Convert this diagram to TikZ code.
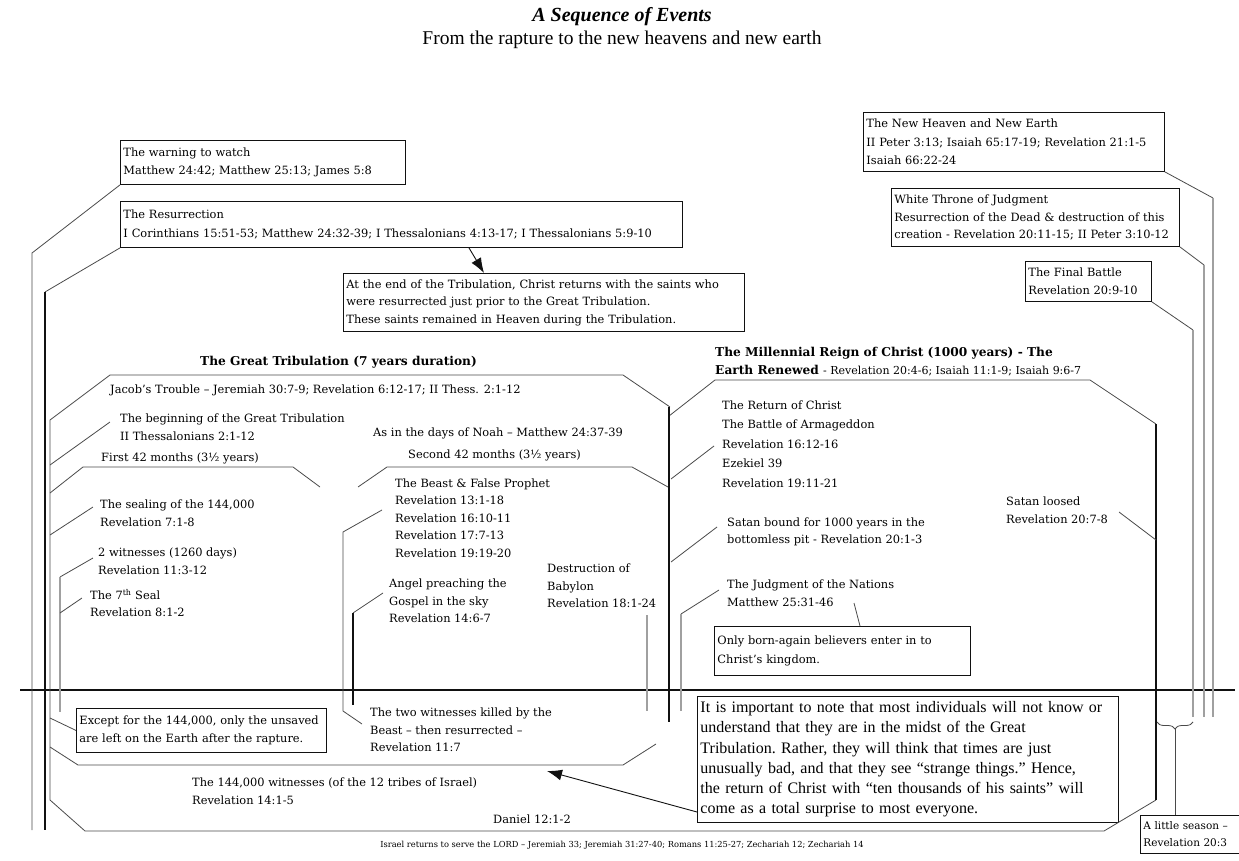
\documentclass[tikz,border=0pt]{standalone}
\usepackage{fontspec}
\setmainfont{DejaVu Serif}
\newfontfamily\timesfont{Liberation Serif}
\usetikzlibrary{arrows.meta, positioning, calc, decorations.pathreplacing}
\definecolor{lnblack}{HTML}{111111}
\definecolor{lndark}{HTML}{4A4A4A}
\definecolor{lngray}{HTML}{A0A0A0}

\begin{document}
\begin{tikzpicture}[x=1pt, y=-1pt,
  every node/.style={inner sep=0pt, font=\fontsize{11.4}{17.5}\selectfont},
  txt/.style={anchor=west, align=left},
  hdr/.style={anchor=west, align=left, font=\fontsize{12.2}{18}\selectfont\bfseries},
  evbox/.style n args={2}{draw=lnblack, line width=0.9pt, anchor=north west, align=left, inner xsep=3pt,
    minimum width=#1, text width=#1-6pt, minimum height=#2, font=\fontsize{11.4}{18.5}\selectfont},
  lnthin/.style={draw=lndark, line width=0.8pt},
  lnfaint/.style={draw=lngray, line width=1.3pt},
  lnheavy/.style={draw=lnblack, line width=2.5pt},
  pointer/.style={draw=lnblack, line width=0.9pt, -{Latex[length=15pt, width=11pt]}},
]
\path[use as bounding box, fill=white] (0,0) rectangle (1239,861);

% Title
\node[font=\timesfont\fontsize{20}{24}\selectfont\bfseries\itshape] (title) at (622,17) {A Sequence of Events};
\node[font=\timesfont\fontsize{19.5}{24}\selectfont] (subtitle) at (622,40) {From the rapture to the new heavens and new earth};

% Boxes
\node[evbox={285pt}{44pt}] (warn) at (120,140) {The warning to watch\\Matthew 24:42; Matthew 25:13; James 5:8};
\node[evbox={562pt}{46pt}] (res) at (120,201) {The Resurrection\\I Corinthians 15:51-53; Matthew 24:32-39; I Thessalonians 4:13-17; I Thessalonians 5:9-10};
\node[evbox={401pt}{58pt}, font=\fontsize{11.4}{17.5}\selectfont] (endtrib) at (343,273) {At the end of the Tribulation, Christ returns with the saints who\\were resurrected just prior to the Great Tribulation.\\These saints remained in Heaven during the Tribulation.};
\node[evbox={301pt}{59pt}] (nhne) at (863,112) {The New Heaven and New Earth\\II Peter 3:13; Isaiah 65:17-19; Revelation 21:1-5\\Isaiah 66:22-24};
\node[evbox={288pt}{58pt}, font=\fontsize{11.4}{17.5}\selectfont] (wtj) at (891,188) {White Throne of Judgment\\Resurrection of the Dead \& destruction of this\\creation - Revelation 20:11-15; II Peter 3:10-12};
\node[evbox={126pt}{40pt}] (fb) at (1025,261) {The Final Battle\\Revelation 20:9-10};
\node[evbox={256pt}{49pt}] (born) at (714,626) {Only born-again believers enter in to\\Christ’s kingdom.};
\node[evbox={250pt}{44pt}] (except) at (76,708) {Except for the 144,000, only the unsaved\\are left on the Earth after the rapture.};
\node[evbox={421pt}{126pt}, font=\timesfont\fontsize{16}{20.2}\selectfont\frenchspacing] (note) at (697,696) {It is important to note that most individuals will not know or\\understand that they are in the midst of the Great\\Tribulation. Rather, they will think that times are just\\unusually bad, and that they see “strange things.” Hence,\\the return of Christ with “ten thousands of his saints” will\\come as a total surprise to most everyone.};
\node[evbox={99pt}{38pt}, font=\fontsize{10.5}{17}\selectfont, inner xsep=2pt] (season) at (1140,815) {A little season –\\Revelation 20:3};

% Great Tribulation labels
\node[hdr] (gthead) at (200,362) {The Great Tribulation (7 years duration)};
\node[txt] (jacob) at (110,390) {Jacob’s Trouble – Jeremiah 30:7-9; Revelation 6:12-17; II Thess. 2:1-12};
\node[txt] (gtbegin) at (120,427) {The beginning of the Great Tribulation\\II Thessalonians 2:1-12};
\node[txt] (first42) at (101,458) {First 42 months (3½ years)};
\node[txt] (sealing) at (100,513) {The sealing of the 144,000\\Revelation 7:1-8};
\node[txt] (twowit) at (98,561) {2 witnesses (1260 days)\\Revelation 11:3-12};
\node[txt] (seal7) at (90,603) {The 7\textsuperscript{th} Seal\\Revelation 8:1-2};
\node[txt] (noah) at (373,433) {As in the days of Noah – Matthew 24:37-39};
\node[txt] (second42) at (408,455) {Second 42 months (3½ years)};
\node[txt] (beast) at (395,518) {The Beast \& False Prophet\\Revelation 13:1-18\\Revelation 16:10-11\\Revelation 17:7-13\\Revelation 19:19-20};
\node[txt] (angel) at (389,601) {Angel preaching the\\Gospel in the sky\\Revelation 14:6-7};
\node[txt] (babylon) at (547,586) {Destruction of\\Babylon\\Revelation 18:1-24};
\node[txt] (killed) at (370,730) {The two witnesses killed by the\\Beast – then resurrected –\\Revelation 11:7};
\node[txt] (witness) at (192,791) {The 144,000 witnesses (of the 12 tribes of Israel)\\Revelation 14:1-5};
\node[txt] (daniel) at (493,819) {Daniel 12:1-2};
\node[font=\fontsize{8.3}{10}\selectfont] (israel) at (622,845) {Israel returns to serve the LORD – Jeremiah 33; Jeremiah 31:27-40; Romans 11:25-27; Zechariah 12; Zechariah 14};

% Millennium labels
\node[hdr] (milhead) at (715,362) {The Millennial Reign of Christ (1000 years) - The\\Earth Renewed {\mdseries\fontsize{11}{18}\selectfont - Revelation 20:4-6; Isaiah 11:1-9; Isaiah 9:6-7}};
\node[txt, font=\fontsize{11.4}{19.5}\selectfont] (christret) at (722,444) {The Return of Christ\\The Battle of Armageddon\\Revelation 16:12-16\\Ezekiel 39\\Revelation 19:11-21};
\node[txt] (bound) at (727,532) {Satan bound for 1000 years in the\\bottomless pit - Revelation 20:1-3};
\node[txt] (nations) at (727,593) {The Judgment of the Nations\\Matthew 25:31-46};
\node[txt] (loosed) at (1006,510) {Satan loosed\\Revelation 20:7-8};

% Timeline
\draw[lnheavy] (20,690) -- (1235,690);

% Left brackets
\draw[lnthin] (warn.south west) -- (32,253) -- (32,830);
\draw[lnthin] (res.south west) -- (45,292);
\draw[lnheavy] (45,292) -- (45,830);
\draw[lnthin] (670,407) -- (623,375) -- (110,375) -- (50,420) -- (50,800) -- (85,831) -- (1104,831) -- (1156,800);
\draw[lnthin] (110,422) -- (50,465);
\draw[lnthin] (50,493) -- (83,467) -- (293,467) -- (320,487);
\draw[lnthin] (93,507) -- (50,535);
\draw[lnthin] (93,558) -- (60,577);
\draw[lnfaint] (60,577) -- (60,712);
\draw[lnthin] (82,598) -- (60,613);
\draw[lnthin] (50,718) -- (except.west);
\draw[lnthin] (50,747) -- (78,765) -- (623,765) -- (656,744);

% Second half of the Tribulation
\draw[lnthin] (358,487) -- (387,467) -- (632,467) -- (668,487);
\draw[lnthin] (382,510) -- (343,532) -- (343,711) -- (362,724);
\draw[lnthin] (383,593) -- (353,613);
\draw[lnheavy] (353,613) -- (353,705);
\draw[lnfaint] (647,615) -- (647,711);

% Millennium
\draw[lnthin] (1156,424) -- (1090,380) -- (715,380) -- (669,416);
\draw[lnheavy] (669,407) -- (669,722);
\draw[lnheavy] (1156,424) -- (1156,800);
\draw[lnthin] (714,446) -- (671,479);
\draw[lnthin] (717,527) -- (671,562);
\draw[lnthin] (719,590) -- (681,614);
\draw[lnfaint] (681,614) -- (681,711);
\draw[lnthin] (854,603) -- (860,0 |- born.north);
\draw[lnthin] (1119,512) -- (1156,540);

% Right brackets
\draw[lnthin] (nhne.south east) -- (1213,198);
\draw[lnfaint] (1213,198) -- (1213,717);
\draw[lnthin] (wtj.south east) -- (1204,265);
\draw[lnfaint] (1204,265) -- (1204,717);
\draw[lnthin] (fb.south east) -- (1193,330);
\draw[lnfaint] (1193,330) -- (1193,717);

% Brace
\draw[lnthin, decorate, decoration={brace, amplitude=7pt}] (1193,722) -- (1157,722);
\coordinate (brtip) at (1175,729);
\draw[lnthin] (brtip) -- (brtip |- season.north);

% Arrows
\coordinate (wittip) at (547,771);
\draw[pointer] (469,0 |- res.south) -- (484,0 |- endtrib.north);
\draw[pointer] (note.west |- 0,812) -- (wittip);
\end{tikzpicture}
\end{document}
